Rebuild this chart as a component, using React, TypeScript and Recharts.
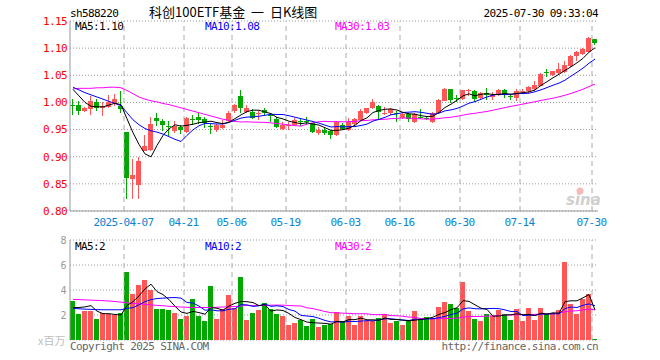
import { ComposedChart, Bar, Line, XAxis, YAxis, CartesianGrid, ReferenceLine } from "recharts";

// trading days shown (2025)
const MAR = [24, 25, 26, 27, 28, 31];
const APR = [1, 2, 3, 7, 8, 9, 10, 11, 14, 15, 16, 17, 18, 21, 22, 23, 24, 25, 28, 29, 30];
const MAY = [6, 7, 8, 9, 12, 13, 14, 15, 16, 19, 20, 21, 22, 23, 26, 27, 28, 29, 30];
const JUN = [3, 4, 5, 6, 9, 10, 11, 12, 13, 16, 17, 18, 19, 20, 23, 24, 25, 26, 27, 30];
const JUL = [1, 2, 3, 4, 7, 8, 9, 10, 11, 14, 15, 16, 17, 18, 21, 22, 23, 24, 25, 28, 29, 30];

const DATE_TICKS = [
  "2025-04-07", "2025-04-21", "2025-05-06", "2025-05-19", "2025-06-03",
  "2025-06-16", "2025-06-30", "2025-07-14", "2025-07-30",
];
const PRICE_TICKS = [0.8, 0.85, 0.9, 0.95, 1.0, 1.05, 1.1, 1.15];
const VOL_TICKS = [2, 4, 6, 8];

const OPEN = [
  0.996, 0.996, 0.984, 0.988, 1.0, 0.99, 0.992, 0.999, 0.993, 0.945,
  0.859, 0.847, 0.91, 0.912, 0.972, 0.966, 0.957, 0.947, 0.955, 0.945,
  0.969, 0.974, 0.969, 0.957, 0.95, 0.953, 0.965, 0.984, 1.011, 0.983,
  0.983, 0.979, 0.986, 0.976, 0.97, 0.951, 0.958, 0.959, 0.965, 0.965,
  0.962, 0.944, 0.95, 0.948, 0.94, 0.959, 0.949, 0.961, 0.968, 0.981,
  0.99, 0.994, 0.98, 0.981, 0.98, 0.972, 0.978, 0.964, 0.974, 0.972,
  0.964, 0.981, 1.002, 1.024, 1.008, 1.006, 1.021, 1.021, 1.009, 1.018,
  1.01, 1.013, 1.022, 1.012, 1.009, 1.02, 1.021, 1.024, 1.031, 1.056,
  1.051, 1.054, 1.056, 1.067, 1.085, 1.09, 1.093, 1.117,
];
const HIGH = [
  1.006, 1.002, 0.992, 1.011, 1.007, 1.0, 1.013, 1.015, 1.021, 0.945,
  0.895, 0.9, 0.94, 0.974, 0.981, 0.97, 0.966, 0.965, 0.958, 0.973,
  0.976, 0.981, 0.973, 0.962, 0.961, 0.967, 0.984, 0.998, 1.022, 0.995,
  0.988, 0.984, 0.99, 0.981, 0.973, 0.964, 0.964, 0.972, 0.97, 0.973,
  0.963, 0.954, 0.953, 0.95, 0.965, 0.962, 0.972, 0.972, 0.988, 0.99,
  1.006, 0.996, 0.992, 0.99, 0.984, 0.981, 0.981, 0.981, 0.988, 0.975,
  0.983, 1.006, 1.026, 1.024, 1.013, 1.022, 1.025, 1.022, 1.019, 1.027,
  1.02, 1.024, 1.024, 1.015, 1.025, 1.024, 1.03, 1.039, 1.055, 1.061,
  1.058, 1.073, 1.077, 1.087, 1.095, 1.1, 1.12, 1.117,
];
const LOW = [
  0.977, 0.976, 0.983, 0.977, 0.984, 0.975, 0.99, 0.993, 0.981, 0.823,
  0.822, 0.823, 0.91, 0.91, 0.957, 0.947, 0.938, 0.944, 0.941, 0.944,
  0.958, 0.96, 0.953, 0.941, 0.945, 0.951, 0.962, 0.981, 0.981, 0.981,
  0.969, 0.967, 0.975, 0.964, 0.953, 0.949, 0.949, 0.957, 0.957, 0.958,
  0.943, 0.94, 0.94, 0.933, 0.938, 0.949, 0.947, 0.958, 0.967, 0.978,
  0.987, 0.969, 0.977, 0.976, 0.964, 0.97, 0.964, 0.962, 0.969, 0.967,
  0.962, 0.981, 1.002, 0.999, 1.0, 1.004, 1.012, 1.001, 1.005, 1.004,
  1.005, 1.012, 1.009, 1.004, 1.002, 1.015, 1.018, 1.021, 1.03, 1.046,
  1.049, 1.052, 1.055, 1.066, 1.076, 1.088, 1.092, 1.106,
];
const CLOSE = [
  0.995, 0.984, 0.989, 1.002, 0.99, 0.994, 1.001, 1.006, 0.988, 0.86,
  0.866, 0.893, 0.919, 0.961, 0.965, 0.958, 0.954, 0.956, 0.949, 0.972,
  0.968, 0.968, 0.963, 0.956, 0.959, 0.959, 0.981, 0.996, 0.99, 0.99,
  0.972, 0.98, 0.98, 0.975, 0.955, 0.958, 0.959, 0.968, 0.964, 0.964,
  0.945, 0.95, 0.944, 0.94, 0.964, 0.951, 0.964, 0.97, 0.984, 0.989,
  1.0, 0.983, 0.981, 0.987, 0.979, 0.978, 0.97, 0.978, 0.973, 0.971,
  0.981, 1.004, 1.024, 1.004, 1.007, 1.022, 1.022, 1.006, 1.018, 1.013,
  1.014, 1.022, 1.015, 1.011, 1.021, 1.021, 1.029, 1.033, 1.053, 1.055,
  1.057, 1.061, 1.069, 1.086, 1.092, 1.098, 1.118, 1.109,
];
// volume, millions of shares
const VOLUME = [
  3.15, 2.08, 2.32, 2.32, 1.68, 2.13, 2.08, 2.0, 2.13, 5.44,
  3.68, 4.4, 4.8, 4.0, 2.48, 2.48, 2.4, 2.16, 1.68, 1.92,
  3.28, 1.92, 1.52, 4.32, 1.68, 2.48, 3.6, 2.6, 5.04, 1.6,
  2.13, 2.4, 2.93, 2.48, 2.08, 1.92, 1.2, 1.33, 1.6, 1.12,
  1.68, 1.04, 1.2, 1.3, 2.21, 1.52, 1.92, 1.2, 1.92, 1.52,
  1.52, 1.76, 2.08, 1.36, 1.52, 1.2, 1.52, 2.32, 1.68, 1.84,
  1.76, 2.64, 3.04, 2.88, 2.56, 4.64, 2.32, 1.68, 1.52, 2.08,
  1.92, 2.4, 2.08, 1.6, 2.48, 1.52, 2.56, 1.6, 2.56, 2.08,
  2.08, 2.4, 6.24, 2.88, 2.08, 3.28, 3.68, 0.08,
];

// moving-average values before enough days are visible
const MA5_HEAD = [1.024, 1.012, 1.0, 0.993];
const MA10_HEAD = [1.028, 1.023, 1.018, 1.014, 1.01, 1.006, 1.002, 0.998, 0.994];
const MA30_HEAD = [
  1.025, 1.026, 1.026, 1.026, 1.027, 1.027, 1.028, 1.028, 1.027, 1.022,
  1.016, 1.01, 1.006, 1.003, 1.001, 0.998, 0.996, 0.993, 0.99, 0.987,
  0.984, 0.981, 0.978, 0.975, 0.972, 0.969, 0.967, 0.965, 0.964,
];
const VMA5_HEAD = [2.6, 2.6, 2.65, 2.75];
const VMA10_HEAD = [2.53, 2.5, 2.47, 2.45, 2.43, 2.42, 2.42, 2.42, 2.42];
const VMA30_HEAD = [
  3.25, 3.23, 3.21, 3.19, 3.17, 3.15, 3.12, 3.08, 3.03, 2.98,
  2.93, 2.89, 2.85, 2.81, 2.77, 2.74, 2.7, 2.67, 2.64, 2.62,
  2.6, 2.6, 2.6, 2.6, 2.62, 2.64, 2.66, 2.68, 2.72,
];

const RED = "#ff5757";
const GREEN = "#00a800";
const MONO = { fontFamily: "'DejaVu Sans Mono', monospace", fontSize: 11, letterSpacing: "-0.6px" };

const pad = (d: number) => String(d).padStart(2, "0");
const DATES = [
  ...MAR.map((d) => `2025-03-${pad(d)}`),
  ...APR.map((d) => `2025-04-${pad(d)}`),
  ...MAY.map((d) => `2025-05-${pad(d)}`),
  ...JUN.map((d) => `2025-06-${pad(d)}`),
  ...JUL.map((d) => `2025-07-${pad(d)}`),
];

function movingAvg(vals: number[], n: number, head: number[]) {
  return vals.map((_, i) => {
    if (i < n - 1) return head[i];
    let s = 0;
    for (let k = i - n + 1; k <= i; k++) s += vals[k];
    return s / n;
  });
}

const ma5 = movingAvg(CLOSE, 5, MA5_HEAD);
const ma10 = movingAvg(CLOSE, 10, MA10_HEAD);
const ma30 = movingAvg(CLOSE, 30, MA30_HEAD);
const vma5 = movingAvg(VOLUME, 5, VMA5_HEAD);
const vma10 = movingAvg(VOLUME, 10, VMA10_HEAD);
const vma30 = movingAvg(VOLUME, 30, VMA30_HEAD);

const data = DATES.map((date, i) => ({
  date,
  open: OPEN[i],
  high: HIGH[i],
  low: LOW[i],
  close: CLOSE[i],
  range: [LOW[i], HIGH[i]],
  up: CLOSE[i] >= OPEN[i],
  vol: VOLUME[i],
  ma5: ma5[i],
  ma10: ma10[i],
  ma30: ma30[i],
  vma5: vma5[i],
  vma10: vma10[i],
  vma30: vma30[i],
}));

const last = data.length - 1;

function Candle(props: any) {
  const { x, y, height } = props;
  const d = props.payload ?? data[props.index];
  const top = Math.min(y, y + height);
  const span = Math.abs(height);
  const k = d.high > d.low ? span / (d.high - d.low) : 0;
  const py = (v: number) => top + (d.high - v) * k;
  const color = d.up ? RED : GREEN;
  const bTop = py(Math.max(d.open, d.close));
  const bH = Math.max(1, py(Math.min(d.open, d.close)) - bTop);
  const bx = Math.round(x);
  return (
    <g shapeRendering="crispEdges">
      <rect x={bx + 2} y={top} width={1} height={Math.max(1, span)} fill={color} />
      <rect x={bx} y={bTop} width={5} height={bH} fill={color} />
    </g>
  );
}

function VolBar(props: any) {
  const { x, y, height } = props;
  const d = props.payload ?? data[props.index];
  const top = Math.min(y, y + height);
  return (
    <rect
      x={Math.round(x)}
      y={top}
      width={5}
      height={Math.abs(height)}
      fill={d.up ? RED : GREEN}
      shapeRendering="crispEdges"
    />
  );
}

function DateTick({ x, y, payload }: any) {
  const v: string = payload.value;
  const label = v === DATE_TICKS[0] ? v : v.slice(5);
  return (
    <text x={x - 3.5} y={y + 14.7} textAnchor="middle" fill="#0a84d0" style={MONO}>
      {label}
    </text>
  );
}

const gridLines = DATE_TICKS.map((d) => (
  <ReferenceLine key={d} x={d} position="start" stroke="#aaa" strokeDasharray="5 4" />
));

export default function App() {
  return (
    <div style={{ position: "absolute", left: 0, top: 0, width: 660, height: 360, background: "#fff" }}>
      <div style={{ position: "absolute", left: 0, top: 0 }}>
        <ComposedChart width={660} height={232} data={data} margin={{ top: 21, right: 62, bottom: 1, left: 0 }}>
          <CartesianGrid vertical={false} stroke="#999" strokeDasharray="1 2" />
          <XAxis
            dataKey="date"
            ticks={DATE_TICKS}
            interval={0}
            height={20}
            tickLine={false}
            tickSize={0}
            tickMargin={0}
            axisLine={{ stroke: "#999" }}
            tick={<DateTick />}
          />
          <XAxis xAxisId="t" dataKey="date" orientation="top" height={0} tick={false} tickLine={false} axisLine={{ stroke: "#999" }} />
          <YAxis
            domain={[0.8, 1.15]}
            ticks={PRICE_TICKS}
            allowDataOverflow
            width={70}
            tickLine={false}
            tickSize={0}
            tickMargin={3}
            axisLine={{ stroke: "#999" }}
            tickFormatter={(v: number) => v.toFixed(2)}
            tick={{ fill: "#f00", ...MONO }}
          />
          <YAxis yAxisId="r" orientation="right" domain={[0.8, 1.15]} width={0} tick={false} tickLine={false} axisLine={{ stroke: "#999" }} />
          {gridLines}
          <Bar dataKey="range" barSize={6} shape={<Candle />} isAnimationActive={false} />
          <Line dataKey="ma30" stroke="#ff00ff" strokeWidth={1} dot={false} activeDot={false} isAnimationActive={false} />
          <Line dataKey="ma10" stroke="#0000ff" strokeWidth={1} dot={false} activeDot={false} isAnimationActive={false} />
          <Line dataKey="ma5" stroke="#000" strokeWidth={1} dot={false} activeDot={false} isAnimationActive={false} />
        </ComposedChart>
      </div>
      <div style={{ position: "absolute", left: 0, top: 232 }}>
        <ComposedChart width={660} height={128} data={data} margin={{ top: 8, right: 62, bottom: 20, left: 0 }}>
          <CartesianGrid vertical={false} stroke="#999" strokeDasharray="1 2" />
          <XAxis dataKey="date" hide />
          <XAxis xAxisId="t" dataKey="date" orientation="top" height={0} tick={false} tickLine={false} axisLine={{ stroke: "#999" }} />
          <YAxis
            domain={[0, 8]}
            ticks={VOL_TICKS}
            width={70}
            tickLine={false}
            tickSize={0}
            tickMargin={4}
            axisLine={{ stroke: "#999" }}
            tick={{ fill: "#999", ...MONO, fontSize: 10 }}
          />
          <YAxis yAxisId="r" orientation="right" domain={[0, 8]} width={0} tick={false} tickLine={false} axisLine={{ stroke: "#999" }} />
          {gridLines}
          <Bar dataKey="vol" barSize={6} shape={<VolBar />} isAnimationActive={false} />
          <Line dataKey="vma30" stroke="#ff00ff" strokeWidth={1} dot={false} activeDot={false} isAnimationActive={false} />
          <Line dataKey="vma10" stroke="#0000ff" strokeWidth={1} dot={false} activeDot={false} isAnimationActive={false} />
          <Line dataKey="vma5" stroke="#000" strokeWidth={1} dot={false} activeDot={false} isAnimationActive={false} />
        </ComposedChart>
      </div>
      <svg width={660} height={360} style={{ position: "absolute", left: 0, top: 0, pointerEvents: "none" }}>
        <text x={70} y={17} fill="#000" style={MONO}>sh588220</text>
        <text x={149} y={17} fill="#000" style={{ fontFamily: "'Noto Sans CJK SC', sans-serif", fontSize: 13, whiteSpace: "pre" }}>
          科创100ETF基金  一  日K线图
        </text>
        <text x={598} y={17} textAnchor="end" fill="#000" style={MONO}>2025-07-30 09:33:04</text>

        <text x={75} y={30} fill="#000" style={MONO}>{`MA5:${data[last].ma5.toFixed(2)}`}</text>
        <text x={205} y={30} fill="#0000ff" style={MONO}>{`MA10:${data[last].ma10.toFixed(2)}`}</text>
        <text x={335} y={30} fill="#ff00ff" style={MONO}>{`MA30:${data[last].ma30.toFixed(2)}`}</text>

        <text x={75} y={250} fill="#000" style={MONO}>{`MA5:${Math.floor(data[last].vma5)}`}</text>
        <text x={205} y={250} fill="#0000ff" style={MONO}>{`MA10:${Math.floor(data[last].vma10)}`}</text>
        <text x={335} y={250} fill="#ff00ff" style={MONO}>{`MA30:${Math.floor(data[last].vma30)}`}</text>

        <text x={566} y={205} fill="#d0d0d0" style={{ fontFamily: "'DejaVu Sans', sans-serif", fontSize: 15, fontWeight: "bold", fontStyle: "italic" }}>sina</text>
        <circle cx={580} cy={191} r={3.5} fill="#f7b8b8" />

        <text x={38} y={345} fill="#c0c0c0" style={{ fontFamily: "'Noto Sans CJK SC', sans-serif", fontSize: 11 }}>x百万</text>
        <text x={70} y={350} fill="#666" style={MONO}>Copyright 2025 SINA.COM</text>
        <text x={598} y={350} textAnchor="end" fill="#666" style={MONO}>http://finance.sina.com.cn</text>
      </svg>
    </div>
  );
}
